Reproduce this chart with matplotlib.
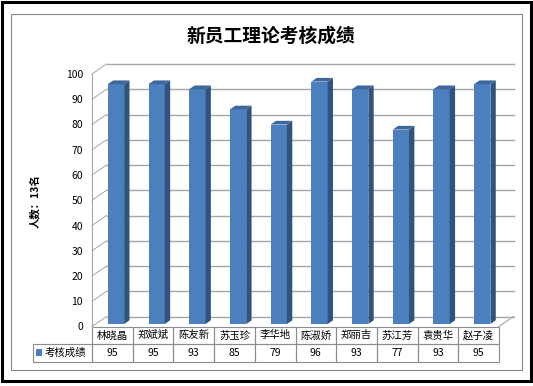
import numpy as np
import matplotlib
matplotlib.use('Agg')
import matplotlib.pyplot as plt
from matplotlib.patches import Polygon, Rectangle, Patch

plt.rcParams['font.family'] = ['Noto Sans CJK SC', 'DejaVu Sans']

# chart data
title = '新员工理论考核成绩'
series_name = '考核成绩'
y_label = '人数：13名'
names = ['林晓晶', '郑斌斌', '陈友新', '苏玉珍', '李华地',
         '陈淑娇', '郑丽吉', '苏江芳', '袁贵华', '赵子凌']
scores = [95, 95, 93, 85, 79, 96, 93, 77, 93, 95]
y_ticks = list(range(0, 101, 10))

# colours
front_c = '#4b7fbd'
side_c = '#31547f'
top_c = '#3e679a'
grid_c = '#a6a6a6'
edge_c = '#8c8c8c'

W, H = 533, 386
fig = plt.figure(figsize=(W / 100, H / 100), dpi=100)

# front plane of the plot area
ax = fig.add_axes([92 / W, 1 - 326.5 / H, 407 / W, 252.5 / H])
n = len(names)
ax.set_xlim(0, n)
ax.set_ylim(0, 100)
for s in ax.spines.values():
    s.set_visible(False)
ax.set_xticks([])
ax.set_yticks(y_ticks)
ax.set_yticklabels([str(t) for t in y_ticks], fontsize=7.5)
ax.tick_params(axis='y', length=0, pad=6.5)

# depth of the fake 3d box, in data units
DX = 14.5 * n / 407
DY = 10 * 100 / 252.5

# walls: left wall slants + back wall gridlines
for v in y_ticks:
    ax.plot([0, DX], [v, v + DY], color=grid_c, lw=0.7, clip_on=False, zorder=1)
    ax.plot([DX, n + DX], [v + DY, v + DY], color=grid_c, lw=1.0, clip_on=False, zorder=1)
ax.plot([0, 0], [0, 100], color=grid_c, lw=0.8, clip_on=False, zorder=1)
ax.plot([n, n + DX], [0, DY], color=grid_c, lw=0.8, clip_on=False, zorder=1)

# bars (front face), then side and top faces
F1 = 0.25   # depth where the bar front sits
S = 0.37    # bar depth
x = np.arange(n) + 0.5 + F1 * DX
bars = ax.bar(x, scores, width=0.4, bottom=F1 * DY, color=front_c,
              zorder=3, clip_on=False)
for r in bars:
    xl, w = r.get_x(), r.get_width()
    b, h = r.get_y(), r.get_height()
    xr = xl + w
    side = Polygon([(xr, b), (xr + S * DX, b + S * DY),
                    (xr + S * DX, b + h + S * DY), (xr, b + h)],
                   closed=True, facecolor=side_c, edgecolor='none',
                   zorder=3, clip_on=False)
    top = Polygon([(xl, b + h), (xr, b + h), (xr + S * DX, b + h + S * DY),
                   (xl + S * DX, b + h + S * DY)],
                  closed=True, facecolor=top_c, edgecolor='none',
                  zorder=3, clip_on=False)
    ax.add_patch(side)
    ax.add_patch(top)

# data table under the plot
cell_text = [[''] + names, [''] + [str(s) for s in scores]]
tbl = ax.table(cellText=cell_text, colWidths=[59] + [40.7] * n,
               cellLoc='center',
               bbox=[(33 - 92) / 407, -35.5 / 252.5, 466 / 407, 35.5 / 252.5])
tbl.auto_set_font_size(False)
tbl.set_fontsize(7.5)
for (r, c), cell in tbl.get_celld().items():
    cell.set_edgecolor(edge_c)
    cell.set_linewidth(0.8)
    cell.set_facecolor('none')
tbl[0, 0].visible_edges = 'open'

# legend key sits in the table's first cell
ax.legend(handles=[Patch(facecolor=front_c)], labels=[series_name],
          loc='center left', bbox_to_anchor=((36 - 92) / 407, (326.5 - 353) / 252.5),
          frameon=False, handlelength=0.55, handleheight=0.55, handletextpad=0.3,
          borderpad=0, borderaxespad=0, fontsize=7.5)

# titles
fig.text(270.5 / W, 1 - 36.5 / H, title, ha='center', va='center',
         fontsize=13.5, fontweight='bold')
fig.text(35 / W, 1 - 201 / H, y_label, rotation=90, ha='center', va='center',
         fontsize=7.5, fontweight='bold')

# chart frames
fig.patches.append(Rectangle((1.5 / W, 1 - 381 / H), 529 / W, 379.5 / H,
                             transform=fig.transFigure, fill=False,
                             edgecolor='black', lw=2.2))
fig.patches.append(Rectangle((11 / W, 1 - 369.5 / H), 511 / W, 355.5 / H,
                             transform=fig.transFigure, fill=False,
                             edgecolor='#868686', lw=0.8))

fig.savefig('out.png', dpi=100)
